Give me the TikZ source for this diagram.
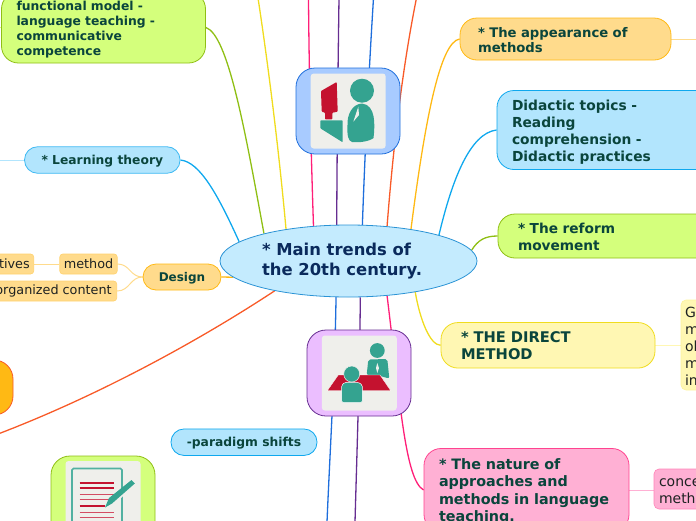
\documentclass[tikz,border=0pt]{standalone}
\usepackage{fontspec}
\setmainfont{DejaVu Sans}
\usetikzlibrary{shapes.geometric,backgrounds}

\definecolor{inkcore}{HTML}{0A2A5C}
\definecolor{inktopic}{HTML}{0A453C}
\definecolor{inkleaf}{HTML}{1E2222}
\definecolor{skyfill}{HTML}{C4EBFE}
\definecolor{skyline}{HTML}{2A93D5}
\definecolor{bluefill}{HTML}{B2E5FD}
\definecolor{blueline}{HTML}{0FA8EE}
\definecolor{limefill}{HTML}{D4FF7C}
\definecolor{limeline}{HTML}{8FBF14}
\definecolor{sandfill}{HTML}{FFDB8C}
\definecolor{sandline}{HTML}{FFB914}
\definecolor{lemonfill}{HTML}{FFF7B3}
\definecolor{lemonline}{HTML}{F0DC1E}
\definecolor{rosefill}{HTML}{FFB0D4}
\definecolor{roseline}{HTML}{FF1E78}
\definecolor{ember}{HTML}{F85A28}
\definecolor{royal}{HTML}{1E6EDC}
\definecolor{plum}{HTML}{662D91}
\definecolor{panelgray}{HTML}{EFEFEB}
\definecolor{iconteal}{HTML}{34A390}
\definecolor{iconred}{HTML}{C4122F}
\definecolor{iconblue}{HTML}{A8CBFF}
\definecolor{iconlilac}{HTML}{EBBEFF}

\begin{document}
\begin{tikzpicture}[
        x=1pt, y=-1pt,
        topic/.style={rectangle, rounded corners=17pt, draw, line width=0.8pt, text=inktopic, align=left,
            inner ysep=0pt, font=\fontsize{13.2}{15}\bfseries\selectfont},
        leaf/.style={rectangle, rounded corners=5pt, draw, line width=0.6pt, text=inkleaf, align=left,
            inner ysep=0pt, font=\fontsize{14}{17}\selectfont},
        smallleaf/.style={leaf, rounded corners=3pt, draw=sandline!25!sandfill, fill=sandfill, minimum height=20pt,
            font=\fontsize{12.8}{14}\selectfont},
        iconbox/.style={rectangle, rounded corners=19pt, draw, line width=0.8pt, minimum width=104pt, minimum height=86pt, inner sep=0pt},
        iconpanel/.style={rectangle, rounded corners=3pt, fill=panelgray, minimum width=75pt, minimum height=75pt, inner sep=0pt},
        link/.style={line width=1.3pt},
        twig/.style={line width=1pt},
        pushdown/.style={execute at begin node={\rule{0pt}{#1}}},
    ]
    \useasboundingbox (0,0) rectangle (696,520);
    \clip (0,0) rectangle (696,520);

    % centre
    \node[ellipse, draw=skyline, fill=skyfill, line width=0.8pt, minimum width=257pt, minimum height=72pt, inner sep=0pt,
        text=inkcore, align=left, pushdown=21.4pt, font=\fontsize{16.4}{20}\bfseries\selectfont] (core) at (348.5,261)
        {* Main trends of\\the 20th century.\hspace*{13pt}};

    % right side
    \node[topic, draw=sandline, fill=sandfill, inner xsep=18pt, text width=175pt, minimum height=42pt, pushdown=12pt] (appearance) at (565.5,39)
        {* The appearance of\\methods};
    \node[topic, draw=blueline, fill=bluefill, inner xsep=15pt, text width=190pt, minimum height=79pt, pushdown=14.5pt, font=\fontsize{13.8}{17}\bfseries\selectfont] (didactic) at (607,130)
        {Didactic topics -\\Reading\\comprehension -\\Didactic practices};
    \node[topic, draw=limeline, fill=limefill, inner xsep=20pt, text width=200pt, minimum height=44pt, pushdown=12.4pt, font=\fontsize{13.7}{17}\bfseries\selectfont] (reform) at (618,236)
        {* The reform\\movement};
    \node[topic, draw=lemonline, fill=lemonfill, inner xsep=20pt, text width=174pt, minimum height=45.5pt, pushdown=12.2pt, font=\fontsize{14.7}{17}\bfseries\selectfont] (direct) at (548,345.3)
        {* THE DIRECT\\METHOD};
    \node[leaf, draw=lemonfill!85!lemonline, fill=lemonfill, inner xsep=4pt, text width=50pt, minimum height=90pt, pushdown=12.2pt] (directleaf) at (710,345)
        {G\\m\\ol\\m\\in};
    \node[topic, draw=roseline!75!rosefill, fill=rosefill, inner xsep=15pt, text width=175pt, minimum height=83pt, pushdown=14pt, font=\fontsize{14.35}{17.5}\bfseries\selectfont] (nature) at (526.5,490)
        {* The nature of\\approaches and\\methods in language\\teaching.};
    \node[leaf, draw=rosefill!70!roseline, fill=rosefill, inner xsep=5pt, text width=50pt, minimum height=40pt, pushdown=11.7pt] (natureleaf) at (684,489)
        {conce\\meth};

    % left side
    \node[topic, draw=limeline, fill=limefill, inner xsep=15pt, text width=174pt, minimum height=71pt, pushdown=13.4pt, font=\fontsize{12.35}{15}\bfseries\selectfont] (functional) at (103.5,27.5)
        {functional model -\\language teaching -\\communicative\\competence};
    \node[topic, rounded corners=13pt, draw=blueline!70!bluefill, fill=bluefill, minimum width=155.5pt, minimum height=26.5pt, pushdown=12pt, font=\fontsize{12.3}{14}\bfseries\selectfont] (learning) at (102.3,160)
        {* Learning theory};
    \node[topic, rounded corners=13pt, draw=sandline, fill=sandfill, minimum width=78pt, minimum height=26pt, pushdown=10.8pt, font=\fontsize{12}{14}\bfseries\selectfont] (design) at (182,277)
        {Design};
    \node[smallleaf, inner xsep=4pt, minimum width=57pt] (method) at (88.5,264)
        {method};
    \node[smallleaf, inner xsep=4pt, anchor=east] (tives) at (34,264)
        {\hspace*{10pt}tives};
    \node[smallleaf, inner xsep=5pt, anchor=east] (organized) at (117,291)
        {organized content};
    \node[rectangle, rounded corners=19pt, draw=ember, fill=sandline, line width=0.8pt, minimum width=80pt, minimum height=55pt] (emberbox) at (-27,387.5) {};
    \node[topic, rounded corners=13pt, draw=blueline, fill=bluefill, minimum width=146pt, minimum height=26.5pt, pushdown=11.3pt, font=\fontsize{12.3}{14}\bfseries\selectfont] (shifts) at (244,442.2)
        {-paradigm shifts};

    % free ends
    \coordinate (pinktop) at (308.5,-2);
    \coordinate (plumtop) at (339,-2);
    \coordinate (royaltop) at (373.5,-2);
    \coordinate (embertop) at (416.5,-2);
    \coordinate (lemontop) at (258,-2);
    \coordinate (plumlow) at (355,522);
    \coordinate (royallow) at (327,522);
    \coordinate (emberlow) at (-2,434);
    \coordinate (learningend) at (-2,160);
    \coordinate (functionalend) at (-2,27.5);
    \coordinate (appearanceend) at (698,39);

    % pictures
    \node[iconbox, draw=royal, fill=iconblue] (teacher) at (348,111) {};
    \node[iconpanel] (teacherpanel) at (348.2,111) {};
    \fill[iconred, rounded corners=0.8pt] (321,91) -- (336.7,82) -- (337.7,111.7) -- (332.3,112.7) -- (332.3,119.3) -- (325,119.3) -- (325,112.7) -- (321.7,111.7) -- cycle;
    \fill[iconteal, rounded corners=0.8pt] (320.3,120.3) -- (342.7,120.3) -- (342.7,142.3) -- (320.3,128.3) -- cycle;
    \fill[iconteal] (362,90.7) circle[radius=12];
    \fill[iconteal] (362,103.5) .. controls (352,104) and (347,115) .. (347.5,125) .. controls (347,135) and (348,141) .. (352,142)
        .. controls (360,143) and (370,141) .. (373.5,138) .. controls (375,125) and (376,105) .. (362,103.5) -- cycle;
    \fill[panelgray] (358.3,106.7) -- (353.3,121.7) -- (359,115) -- cycle;

    \node[iconbox, draw=plum, fill=iconlilac] (meeting) at (359,373) {};
    \node[iconpanel] (meetingpanel) at (359.3,373) {};
    \fill[iconteal] (377.3,350.5) circle[radius=7.4];
    \fill[iconteal, rounded corners=2pt] (366.7,375) -- (368.3,359.5) -- (387.3,359) -- (389.3,378.5) -- (380,376) -- cycle;
    \fill[panelgray] (377.3,363) -- (376,368) -- (377.3,373) -- (379,368) -- cycle;
    \fill[iconred, draw=white, line width=0.3pt] (338.3,375) -- (380,375) -- (390.7,390.7) -- (327.3,390.7) -- cycle;
    \fill[iconteal, draw=white, line width=0.5pt, rounded corners=1.5pt] (341.7,402.7) -- (341.7,385) -- (345,382.3) -- (358.3,382.3) -- (362.3,385) -- (362.3,402.7) -- cycle;
    \fill[iconteal, draw=panelgray, line width=0.5pt] (351.7,374) circle[radius=8];

    \node[iconbox, draw=limeline, fill=limefill, minimum height=110pt] (writing) at (103,511) {};
    \node[iconpanel, minimum height=90pt] (writingpanel) at (103,506) {};
    \draw[iconteal!85!white, line width=1.7pt, rounded corners=1.5pt] (72,530) -- (72,468.5) -- (122,468.5) -- (122,530);
    % lines of the sheet
    \foreach \rowy/\rowx/\rowwidth/\rowtint in {482.7/113.5/1.9/100, 488.3/113.5/1.9/100, 494.3/113.5/1/75, 499.3/113.5/1/75, 506/105/1.9/100, 512.3/113.5/1/75, 517.7/113.5/1/75} {
        \draw[iconred!\rowtint!white, line width=\rowwidth pt] (79.5,\rowy) -- (\rowx,\rowy);
    }
    \fill[panelgray] (103,510) -- (132,484) -- (137,482) -- (110,509) -- cycle;
    \fill[iconteal] (105,507.5) -- (109,498) -- (131.5,480) -- (134.8,483.5) -- (112,503.5) -- cycle;

    % connectors
    \begin{scope}[on background layer]
        \clip (0,0) rectangle (696,520);
        \draw[link, roseline] (core.135) .. controls (311,150) and (309,70) .. (pinktop);
        \draw[link, plum] (core.108) .. controls (337,150) and (338,70) .. (plumtop);
        \draw[link, royal] (core.69) .. controls (365,150) and (369,70) .. (royaltop);
        \draw[link, ember] (core.42.3) .. controls (393,150) and (402,70) .. (embertop);
        \draw[link, lemonline] (core.153.5) .. controls (278,140) and (266,50) .. (lemontop);
        \draw[link, limeline] (functional.east) .. controls (228,35) and (245,130) .. (core.162.5);
        \draw[link, blueline] (learning.east) .. controls (200,162) and (218,195) .. (core.170.8);
        \draw[link, sandline] (design.east) -- (core.-172);
        \draw[link, sandline] (appearance.west) .. controls (440,42) and (425,120) .. (core.27.5);
        \draw[link, blueline] (didactic.west) .. controls (470,133) and (452,180) .. (core.16.2);
        \draw[link, limeline] (reform.west) .. controls (485,236) and (478,240) .. (core.5.7);
        \draw[link, lemonline] (direct.west) .. controls (430,345) and (420,320) .. (core.-25.7);
        \draw[link, roseline] (nature.west) .. controls (405,480) and (400,400) .. (core.-42.3);
        \draw[link, plum] (core.-72.3) .. controls (360,360) and (357,450) .. (plumlow);
        \draw[link, royal] (core.-109) .. controls (335,370) and (330,450) .. (royallow);
        \draw[link, ember] (core.-158.3) .. controls (200,340) and (100,395) .. (emberlow);

        \draw[twig, sandfill] (design.west) .. controls (130,277) and (130,264) .. (method.east);
        \draw[twig, sandfill] (design.west) .. controls (130,277) and (130,291) .. (organized.east);
        \draw[twig, sandfill] (method.west) -- (tives.east);
        \draw[twig, bluefill] (learning.west) -- (learningend);
        \draw[twig, limefill] (functional.west) -- (functionalend);
        \draw[twig, sandfill] (appearance.east) -- (appearanceend);
        \draw[twig, lemonfill] (direct.east) -- (direct.east -| directleaf.west);
        \draw[twig, rosefill] (nature.east) -- (nature.east -| natureleaf.west);
    \end{scope}
\end{tikzpicture}
\end{document}
